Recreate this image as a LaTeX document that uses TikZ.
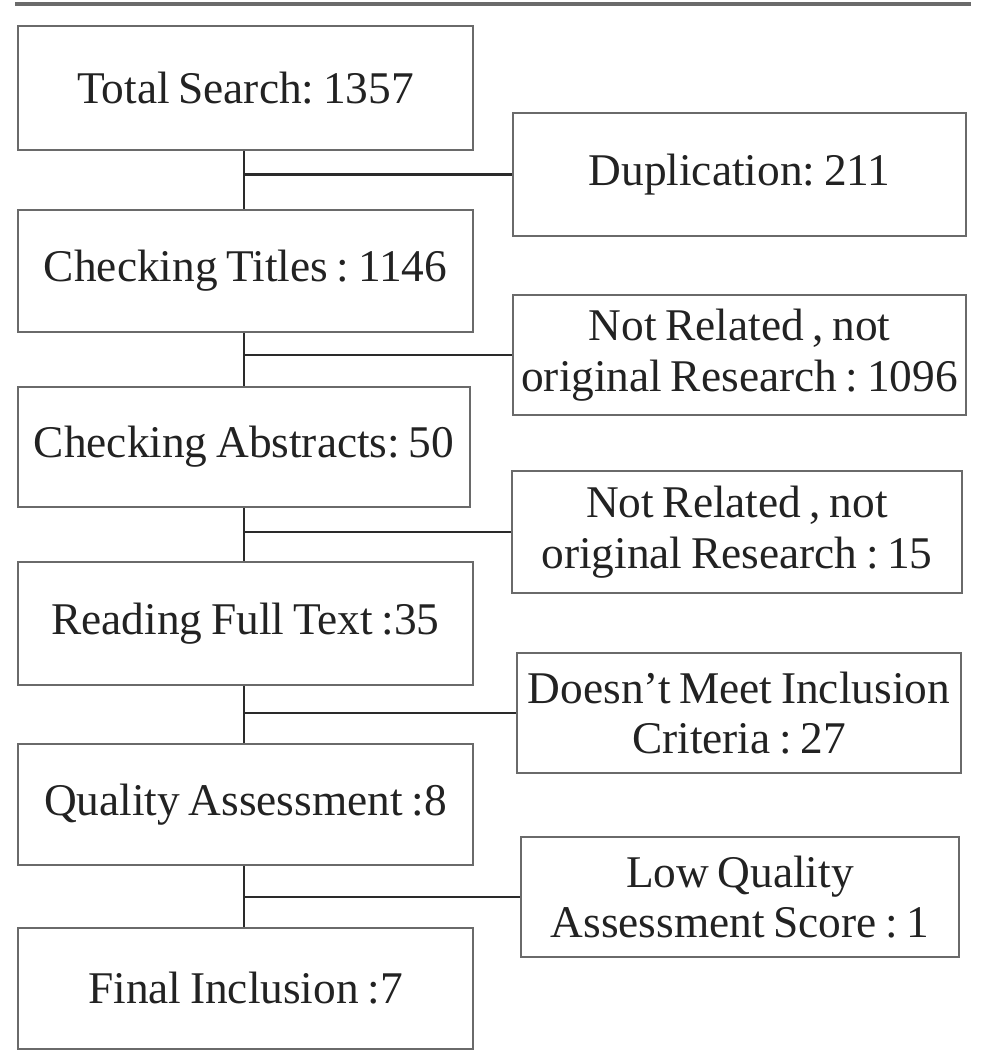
\documentclass[tikz,border=0pt]{standalone}
\usepackage{fontspec}
\setmainfont{Liberation Serif}
\definecolor{boxline}{HTML}{6A6A6A}
\definecolor{conline}{HTML}{2A2A2A}
\definecolor{txt}{HTML}{222222}
\newcommand{\myboxfont}{\fontsize{12.9}{14.4}\selectfont\frenchspacing\spaceskip 0.19em plus 0.05em minus 0.02em\relax\xspaceskip 0.19em plus 0.05em minus 0.02em\relax}
\begin{document}
\begin{tikzpicture}[x=0.01cm,y=-0.01cm,
  box/.style={draw=boxline,line width=0.75pt,inner sep=0pt,align=center,text=txt,
    font=\myboxfont},
  con/.style={draw=conline,line width=0.75pt}]
\useasboundingbox (0,0) rectangle (1000,1063);
% top rule
\coordinate (ruleL) at (15,4);
\coordinate (ruleR) at (971,4);
\draw[draw=black!58,line width=1.1pt] (ruleL) -- (ruleR);
% left column
\node[box,minimum width=4.55cm,minimum height=1.24cm] (ts) at (245.5,88) {Total Search: 1357};
\node[box,minimum width=4.55cm,minimum height=1.22cm] (ct) at (245.5,271) {Checking Titles : 1146};
\node[box,minimum width=4.52cm,minimum height=1.20cm] (ca) at (244,447) {Checking Abstracts: 50};
\node[box,minimum width=4.55cm,minimum height=1.23cm] (rf) at (245.5,623.5) {Reading Full Text :35};
\node[box,minimum width=4.55cm,minimum height=1.21cm] (qa) at (245.5,804.5) {Quality Assessment :8};
\node[box,minimum width=4.55cm,minimum height=1.21cm] (fi) at (245.5,988.5) {Final Inclusion :7};
% right column
\node[box,minimum width=4.53cm,minimum height=1.23cm] (dup) at (739.5,174.5) {Duplication: 211};
\node[box,minimum width=4.53cm,minimum height=1.20cm] (nr1) at (739.5,355) {Not Related , not\\original Research : 1096};
\node[box,minimum width=4.50cm,minimum height=1.22cm] (nr2) at (737,532) {Not Related , not\\original Research : 15};
\node[box,minimum width=4.44cm,minimum height=1.20cm] (dm) at (739,713) {Doesn’t Meet Inclusion\\Criteria : 27};
\node[box,minimum width=4.38cm,minimum height=1.20cm] (lq) at (740,897) {Low Quality\\Assessment Score : 1};
% trunk
\coordinate (tx) at (244,0);
\draw[con] (ts.south -| tx) -- (ct.north -| tx);
\draw[con] (ct.south -| tx) -- (ca.north -| tx);
\draw[con] (ca.south -| tx) -- (rf.north -| tx);
\draw[con] (rf.south -| tx) -- (qa.north -| tx);
\draw[con] (qa.south -| tx) -- (fi.north -| tx);
% branches
\draw[con] (dup.west -| tx) -- (dup.west);
\draw[con] (nr1.west -| tx) -- (nr1.west);
\draw[con] (nr2.west -| tx) -- (nr2.west);
\draw[con] (dm.west -| tx) -- (dm.west);
\draw[con] (lq.west -| tx) -- (lq.west);
\end{tikzpicture}
\end{document}
